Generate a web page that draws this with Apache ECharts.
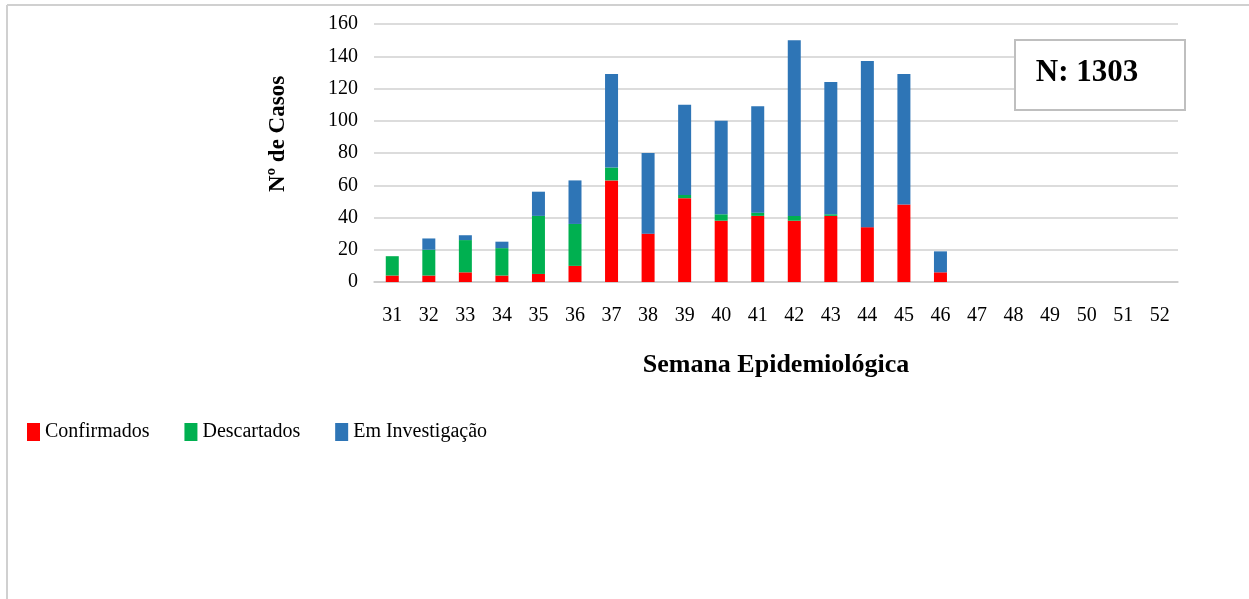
<!DOCTYPE html>
<html>
<head>
<meta charset="utf-8">
<script src="https://cdn.jsdelivr.net/npm/echarts@6/dist/echarts.min.js"></script>
<style>html,body{margin:0;padding:0;background:#fff}#c{width:1249px;height:599px}</style>
</head>
<body>
<div id="c"></div>
<script>
var weeks = ['31','32','33','34','35','36','37','38','39','40','41','42','43','44','45','46','47','48','49','50','51','52'];
var confirmados = [4,4,6,4,5,10,63,30,52,38,41,38,41,34,48,6,0,0,0,0,0,0];
var descartados = [12,16,20,17,36,26,8,0,2,4,2,3,1,0,0,0,0,0,0,0,0,0];
var investigacao = [0,7,3,4,15,27,58,50,56,58,66,109,82,103,81,13,0,0,0,0,0,0];
var yTicks = {min:0, max:160, interval:20};
var totalLabel = 'N: 1303';

var FONT = '"Liberation Serif", "Times New Roman", serif';
var chart = echarts.init(document.getElementById('c'));
function bar(name, data, color){
  return {name:name, type:'bar', stack:'total', data:data, barWidth:13,
    itemStyle:{color:color}, emphasis:{disabled:true}};
}
chart.setOption({
  animation:false,
  backgroundColor:'#fff',
  grid:{left:374, right:71, top:24, bottom:317, containLabel:false},
  legend:{left:27, top:422, padding:0, itemWidth:13, itemHeight:18, itemGap:35, icon:'rect',
    textStyle:{fontFamily:FONT, fontSize:20, color:'#000'},
    data:['Confirmados','Descartados','Em Investigação']},
  xAxis:{type:'category', data:weeks,
    axisLine:{lineStyle:{color:'#c8c8c8', width:1.5}},
    axisTick:{show:false},
    axisLabel:{fontFamily:FONT, fontSize:20, color:'#000', margin:24},
    name:'Semana Epidemiológica', nameLocation:'middle', nameGap:70,
    nameTextStyle:{fontFamily:FONT, fontSize:26, fontWeight:'bold', color:'#000'}},
  yAxis:{type:'value', min:yTicks.min, max:yTicks.max, interval:yTicks.interval,
    axisLine:{show:false}, axisTick:{show:false},
    splitLine:{lineStyle:{color:'#d0d0d0', width:1.5}},
    axisLabel:{fontFamily:FONT, fontSize:20, color:'#000', margin:16},
    name:'Nº de Casos', nameLocation:'middle', nameGap:84,
    nameTextStyle:{fontFamily:FONT, fontSize:23, fontWeight:'bold', color:'#000', padding:[0,0,0,38]}},
  series:[
    bar('Confirmados', confirmados, '#ff0000'),
    bar('Descartados', descartados, '#00b050'),
    bar('Em Investigação', investigacao, '#2e75b6')
  ],
  graphic:[
    {type:'line', shape:{x1:7, y1:5, x2:1249, y2:5}, style:{stroke:'#d0d0d0', lineWidth:2}, z:100},
    {type:'line', shape:{x1:7, y1:5, x2:7, y2:599}, style:{stroke:'#d0d0d0', lineWidth:2}, z:100},
    {type:'rect', shape:{x:1015, y:40, width:170, height:70}, style:{fill:'#fff', stroke:'#bfbfbf', lineWidth:2}, z:100},
    {type:'text', x:1087, y:73, style:{text:totalLabel, fontFamily:FONT, fontSize:31, fontWeight:'bold', fill:'#000', align:'center', verticalAlign:'middle'}, z:101}
  ]
});
</script>
</body>
</html>
